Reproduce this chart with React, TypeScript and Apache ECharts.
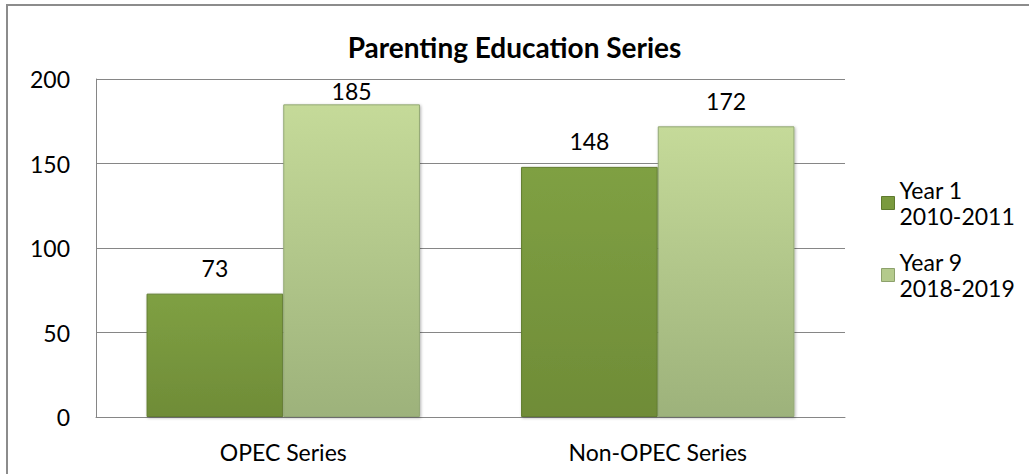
import React, { useEffect, useRef } from "react";
import * as echarts from "echarts";

const title = "Parenting Education Series";
const categories = ["OPEC Series", "Non-OPEC Series"];
const seriesNames = ["Year 1\n2010-2011", "Year 9\n2018-2019"];
const year1Values = [73, 148];
const year9Values = [185, 172];
const yTicks = { min: 0, max: 200, interval: 50 };

const FONT = "Lato, 'Open Sans', sans-serif";

// Labels that would rise above the plot area are pushed down against the bar (as Excel does)
const toData = (vals: number[]) =>
  vals.map((v) => (v > yTicks.max - 20 ? { value: v, label: { distance: 2 } } : v));

export default function App() {
  const ref = useRef<HTMLDivElement>(null);
  useEffect(() => {
    if (!ref.current) return;
    const chart = echarts.init(ref.current, undefined, { renderer: "svg" });
    const darkFill = new echarts.graphic.LinearGradient(0, 0, 0, 1, [
      { offset: 0, color: "#7fa043" },
      { offset: 1, color: "#6f8c37" },
    ]);
    const lightFill = new echarts.graphic.LinearGradient(0, 0, 0, 1, [
      { offset: 0, color: "#c5da99" },
      { offset: 1, color: "#9db27b" },
    ]);
    const labelStyle = {
      show: true,
      position: "top" as const,
      distance: 14,
      color: "#000",
      fontSize: 23,
      fontFamily: FONT,
    };
    chart.setOption({
      animation: false,
      backgroundColor: "#fff",
      title: {
        text: title,
        left: "center",
        top: 28,
        textStyle: { fontSize: 28, fontWeight: "bold", color: "#000", fontFamily: FONT },
      },
      grid: { left: 96, right: 184, top: 79, bottom: 57 },
      legend: {
        orient: "vertical",
        left: 881,
        top: 164,
        padding: 0,
        itemWidth: 13,
        itemHeight: 13,
        itemGap: -6,
        icon: "rect",
        textStyle: {
          fontSize: 23,
          color: "#000",
          fontFamily: FONT,
          lineHeight: 26,
          padding: [26, 0, 0, 0],
        },
        data: [
          { name: seriesNames[0], itemStyle: { color: "#7a9a3e", borderColor: "#5f7a2e", borderWidth: 1 } },
          { name: seriesNames[1], itemStyle: { color: "#b4ca8c", borderColor: "#8da16c", borderWidth: 1 } },
        ],
      },
      xAxis: {
        type: "category",
        data: categories,
        axisLine: { show: true, lineStyle: { color: "#868686", width: 1 } },
        axisTick: { show: false },
        axisLabel: { color: "#000", fontSize: 23, fontFamily: FONT, margin: 23 },
      },
      yAxis: {
        type: "value",
        min: yTicks.min,
        max: yTicks.max,
        interval: yTicks.interval,
        axisLine: { show: true, lineStyle: { color: "#868686", width: 1 } },
        axisTick: { show: false },
        splitLine: { show: true, lineStyle: { color: "#868686", width: 1 } },
        axisLabel: { color: "#000", fontSize: 23, fontFamily: FONT, margin: 26 },
      },
      series: [
        {
          name: seriesNames[0],
          type: "bar",
          data: toData(year1Values),
          barGap: "0%",
          barCategoryGap: "27%",
          itemStyle: {
            color: darkFill,
            borderColor: "#627d30",
            borderWidth: 1,
            shadowColor: "rgba(0,0,0,0.3)",
            shadowBlur: 3,
            shadowOffsetX: 1,
            shadowOffsetY: 1,
          },
          label: labelStyle,
        },
        {
          name: seriesNames[1],
          type: "bar",
          data: toData(year9Values),
          itemStyle: {
            color: lightFill,
            borderColor: "#93a875",
            borderWidth: 1,
            shadowColor: "rgba(0,0,0,0.3)",
            shadowBlur: 3,
            shadowOffsetX: 1,
            shadowOffsetY: 1,
          },
          label: labelStyle,
        },
      ],
      graphic: [
        {
          type: "rect",
          silent: true,
          shape: { x: 7, y: 5, width: 1200, height: 700 },
          style: { fill: "none", stroke: "#8c8c8c", lineWidth: 2 },
        },
      ],
    });
    return () => chart.dispose();
  }, []);
  return (
    <div
      ref={ref}
      style={{ position: "absolute", left: 0, top: 0, width: 1029, height: 474 }}
    />
  );
}
